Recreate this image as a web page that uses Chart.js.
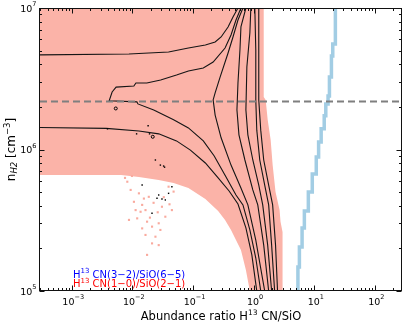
<!DOCTYPE html>
<html><head><meta charset="utf-8">
<script src="https://cdn.jsdelivr.net/npm/chart.js@4.4.1/dist/chart.umd.min.js"></script>
<style>html,body{margin:0;padding:0;background:#fff;overflow:hidden}canvas{display:block}</style>
</head><body>
<canvas id="c" width="407" height="322"></canvas>
<script>
// ---- axis ranges & tick labels ----
const xRange = [3e-4, 280];
const yRange = [1e5, 1e7];
const xMajorTicks = [1e-3, 1e-2, 1e-1, 1, 10, 100];
const xTickExponents = ['-3', '-2', '-1', '0', '1', '2'];
const yMajorTicks = [1e5, 1e6, 1e7];
const yTickExponents = ['5', '6', '7'];

// ---- data: [abundance ratio, n_H2] ----
const densityCut = 2.18e6;

const criticalRegion = [[3e-4,1e7],[1.468,1e7],[1.468,2.35e6],[1.582,2.24e6],[1.706,1.62e6],[1.909,1.17e6],[2.06,7.76e5],[2.30,5.01e5],[2.68,3.73e5],[2.78,3.08e5],[3.00,2.61e5],[3.00,1e5],[0.867,1e5],[0.746,1.41e5],[0.618,1.95e5],[0.424,2.70e5],[0.338,3.18e5],[0.260,3.68e5],[0.160,4.47e5],[0.0841,5.35e5],[0.0479,5.80e5],[0.0272,6.09e5],[0.01283,6.40e5],[6.51e-3,6.61e5],[3e-4,6.61e5]];

const contour1 = [[3e-4,4.66e6],[8.8e-3,4.73e6],[0.0396,4.89e6],[0.0841,5.21e6],[0.160,5.48e6],[0.232,5.75e6],[0.291,6.24e6],[0.379,7.34e6],[0.457,8.63e6],[0.552,1e7]];
const contour2 = [[1.311,1e5],[1.086,1.71e5],[0.867,2.70e5],[0.667,4.06e5],[0.512,4.77e5],[0.351,6.40e5],[0.224,8.99e5],[0.148,1.15e6],[0.0841,1.42e6],[0.0479,1.62e6],[0.02254,1.90e6],[0.01236,2.10e6],[0.01189,2.17e6],[4.15e-3,2.21e6],[4.64e-3,2.55e6],[5.4e-3,2.76e6],[0.0106,2.81e6],[0.01146,2.95e6],[0.01733,2.95e6],[0.0293,3.10e6],[0.0535,3.36e6],[0.0841,3.59e6],[0.148,3.77e6],[0.215,4.15e6],[0.338,5.21e6],[0.424,6.44e6],[0.512,8.22e6],[0.618,1e7]];
const contour3 = [[3e-4,1.43e6],[3.71e-3,1.41e6],[0.01283,1.35e6],[0.02722,1.29e6],[0.0535,1.15e6],[0.0907,9.9e5],[0.160,8.03e5],[0.260,6.30e5],[0.394,5.09e5],[0.552,4.12e5],[0.746,2.79e5],[0.935,1.80e5],[1.128,1e5]];
const contour4 = [[0.667,1e7],[0.552,8.22e6],[0.457,6.24e6],[0.379,4.81e6],[0.280,3.25e6],[0.232,2.51e6],[0.215,2.24e6],[0.232,1.75e6],[0.291,1.21e6],[0.424,7.76e5],[0.618,5.35e5],[0.804,4.06e5],[1.086,2.29e5],[1.524,1e5]];
const contour5 = [[0.746,1e7],[0.618,7.35e6],[0.595,5.05e6],[0.552,2.95e6],[0.531,1.90e6],[0.573,1.27e6],[0.718,8.43e5],[0.970,5.18e5],[1.171,4.06e5],[1.468,2.11e5],[1.771,1e5]];
const contour6 = [[0.900,1e7],[0.867,6.66e6],[0.774,3.83e6],[0.746,1.90e6],[0.804,1.27e6],[0.970,8.43e5],[1.216,5.61e5],[1.413,4.06e5],[1.706,2.11e5],[1.982,1e5]];
const contour7 = [[1.047,1e7],[1.086,5.05e6],[1.086,2.24e6],[1.128,1.37e6],[1.263,8.43e5],[1.524,5.61e5],[1.771,4.06e5],[1.982,2.11e5],[2.22,1e5]];
const contour8 = [[1.216,1e7],[1.216,5.05e6],[1.216,2.24e6],[1.311,1.37e6],[1.468,8.43e5],[1.771,5.61e5],[2.06,4.06e5],[2.30,2.11e5],[2.48,1e5]];

const highJBand = [[5.38,1e5],[5.69,1.48e5],[6.30,2.05e5],[6.87,2.79e5],[7.99,3.67e5],[9.28,5.01e5],[10.8,6.72e5],[11.8,8.85e5],[13.0,1.13e6],[14.6,1.40e6],[15.5,1.73e6],[16.9,2.10e6],[17.8,2.39e6],[19.2,3.25e6],[20.2,4.58e6],[22.3,5.57e6],[22.3,1e7]];

const salmonDots = [[8.26e-3,5.92e5],[9.38e-3,5.18e5],[0.01283,4.90e5],[0.01062,4.27e5],[0.01452,4.06e5],[0.01648,3.73e5],[0.01202,3.26e5],[8.80e-3,3.18e5],[0.01750,3.09e5],[0.01452,2.77e5],[0.02113,2.85e5],[0.02722,3.01e5],[0.0350,3.35e5],[0.02404,2.42e5],[0.02113,2.17e5],[0.02722,2.11e5],[0.01750,1.80e5],[0.0396,5.46e5],[0.0479,5.04e5],[0.0308,3.94e5],[0.01867,4.63e5],[0.01132,3.73e5],[0.01648,2.49e5],[0.01367,3.63e5],[0.0449,3.73e5],[7.57e-3,6.30e5],[9.85e-3,6.50e5],[0.0224,4.2e5],[0.0262,3.6e5],[0.0195,3.3e5],[0.0330,4.6e5],[0.0410,4.1e5],[0.0155,4.5e5],[0.0290,2.7e5]];
const blackDots = [[3.89e-3,1.40e6],[0.0182,1.47e6],[0.0192,1.29e6],[0.01175,1.29e6],[0.0240,8.43e5],[0.0328,7.64e5],[0.0340,7.5e5],[0.0290,7.76e5],[0.0272,4.77e5],[0.0308,4.47e5],[0.035,4.40e5],[0.0255,4.52e5],[0.0211,3.54e5],[0.0396,4.90e5],[0.0145,5.61e5],[0.0449,5.46e5]];
const hollowDots = [[5.33e-3,1.95e6],[0.0217,1.23e6]];

const legendLines = [
  {color: 'blue', parts: ['H', '13', ' CN(3\u22122)/SiO(6\u22125)']},
  {color: 'red',  parts: ['H', '13', ' CN(1\u22120)/SiO(2\u22121)']}
];

// ---- styles ----
const salmon = 'rgb(251,179,168)';
const FONT = '"DejaVu Sans", sans-serif';
const xy = a => a.map(([x, y]) => ({x, y}));

const contourSet = [contour1, contour2, contour3, contour4, contour5, contour6, contour7, contour8].map(c => ({
  data: xy(c), borderColor: '#151515', borderWidth: 1.1, pointRadius: 0, fill: false, order: 3
}));

const datasets = [
  {data: xy([[xRange[0], densityCut], [xRange[1], densityCut]]), borderColor: '#7f7f7f', borderWidth: 2, borderDash: [7, 4], pointRadius: 0, fill: false, order: 0},
  {data: xy(blackDots), showLine: false, pointStyle: 'rect', pointRadius: 1, backgroundColor: '#000', borderColor: 'rgba(0,0,0,0)', borderWidth: 0, order: 1},
  {data: xy(hollowDots), showLine: false, pointStyle: 'circle', pointRadius: 1.5, backgroundColor: 'rgba(0,0,0,0)', borderColor: '#000', borderWidth: 1, order: 1},
  ...contourSet,
  {data: xy(highJBand), borderColor: 'rgb(162,205,228)', borderWidth: 3.5, stepped: 'after', pointRadius: 0, fill: false, order: 4},
  {data: xy(salmonDots), showLine: false, pointStyle: 'rect', pointRadius: 1.5, backgroundColor: 'rgb(249,170,158)', borderColor: 'rgba(0,0,0,0)', borderWidth: 0, order: 5},
  {data: xy(criticalRegion), borderColor: 'rgba(0,0,0,0)', borderWidth: 0, backgroundColor: salmon, fill: 'shape', pointRadius: 0, order: 6}
];

function drawRich(ctx, parts, x, y, align) {
  let total = 0;
  for (const p of parts) { ctx.font = (p.style || '') + ' ' + p.size + 'px ' + FONT; p.w = ctx.measureText(p.t).width; total += p.w; }
  let cx = align === 'center' ? x - total / 2 : align === 'right' ? x - total : x;
  ctx.textAlign = 'left'; ctx.textBaseline = 'alphabetic';
  for (const p of parts) {
    ctx.font = (p.style || '') + ' ' + p.size + 'px ' + FONT;
    ctx.fillText(p.t, cx, y + (p.dy || 0));
    cx += p.w;
  }
}

const decorations = {
  id: 'decorations',
  afterDatasetsDraw(chart) {
    const {ctx, chartArea: a, scales: {x, y}} = chart;
    ctx.save();
    ctx.strokeStyle = '#111'; ctx.lineWidth = 1;
    const L = Math.round(a.left) - 0.5, R = Math.round(a.right) - 0.5, T = Math.round(a.top) + 0.5, B = Math.round(a.bottom) - 0.5;
    ctx.beginPath();
    const tick = (x1, y1, x2, y2) => { ctx.moveTo(x1, y1); ctx.lineTo(x2, y2); };
    const xMinor = [], yMinor = [];
    for (let e = -4; e <= 2; e++) for (let m = 2; m <= 9; m++) { const v = m * Math.pow(10, e); if (v > xRange[0] && v < xRange[1]) xMinor.push(v); }
    for (let e = 5; e <= 6; e++) for (let m = 2; m <= 9; m++) yMinor.push(m * Math.pow(10, e));
    for (const v of xMajorTicks) { const p = Math.round(x.getPixelForValue(v)) + 0.5; tick(p, B, p, B - 5); tick(p, T, p, T + 5); }
    for (const v of xMinor) { const p = Math.round(x.getPixelForValue(v)) + 0.5; tick(p, B, p, B - 2.5); tick(p, T, p, T + 2.5); }
    for (const v of yMajorTicks) { const p = Math.round(y.getPixelForValue(v)) + 0.5; tick(L, p, L + 5, p); tick(R, p, R - 5, p); }
    for (const v of yMinor) { const p = Math.round(y.getPixelForValue(v)) + 0.5; tick(L, p, L + 2.5, p); tick(R, p, R - 2.5, p); }
    ctx.stroke();
    ctx.strokeRect(L, T, R - L, B - T);
    ctx.restore();
  },
  afterDraw(chart) {
    const {ctx, chartArea: a, scales: {x, y}} = chart;
    ctx.save();
    ctx.fillStyle = '#000';
    xMajorTicks.forEach((v, i) => {
      const p = x.getPixelForValue(v);
      drawRich(ctx, [{t: '10', size: 9.5}, {t: xTickExponents[i].replace('-', '\u2212'), size: 6.5, dy: -6.5}], p + 1.5, a.bottom + 14, 'center');
    });
    yMajorTicks.forEach((v, i) => {
      const p = y.getPixelForValue(v);
      drawRich(ctx, [{t: '10', size: 9.5}, {t: yTickExponents[i], size: 6.5, dy: -5.5}], 36.5, p + 3.5, 'right');
    });
    // x title
    drawRich(ctx, [{t: 'Abundance ratio H', size: 11.5}, {t: '13', size: 7.5, dy: -5}, {t: ' CN/SiO', size: 11.5}], (a.left + a.right) / 2, 320, 'center');
    // y title
    ctx.save();
    ctx.translate(14.5, (a.top + a.bottom) / 2);
    ctx.rotate(-Math.PI / 2);
    drawRich(ctx, [{t: 'n', size: 12}, {t: 'H2', size: 8.5, style: 'italic', dy: 2.5}, {t: ' [cm', size: 12}, {t: '\u22123', size: 8.5, dy: -5}, {t: ']', size: 12}], 0, 0, 'center');
    ctx.restore();
    // legend text
    legendLines.forEach((l, i) => {
      ctx.fillStyle = l.color;
      drawRich(ctx, [{t: l.parts[0], size: 10}, {t: l.parts[1], size: 7, dy: -4.5}, {t: l.parts[2], size: 10}], 73, 277.5 + i * 9.5, 'left');
    });
    ctx.restore();
  }
};

new Chart(document.getElementById('c'), {
  type: 'line',
  data: {datasets},
  options: {
    responsive: false, animation: false, events: [],
    layout: {padding: {left: 0, right: 1.5, top: 8, bottom: 0}},
    plugins: {legend: {display: false}, tooltip: {enabled: false}},
    scales: {
      x: {type: 'logarithmic', min: xRange[0], max: xRange[1], ticks: {display: false}, grid: {display: false}, border: {display: false}, afterFit: s => { s.height = 31; }},
      y: {type: 'logarithmic', min: yRange[0], max: yRange[1], ticks: {display: false}, grid: {display: false}, border: {display: false}, afterFit: s => { s.width = 40; }}
    }
  },
  plugins: [decorations]
});
</script>
</body></html>
